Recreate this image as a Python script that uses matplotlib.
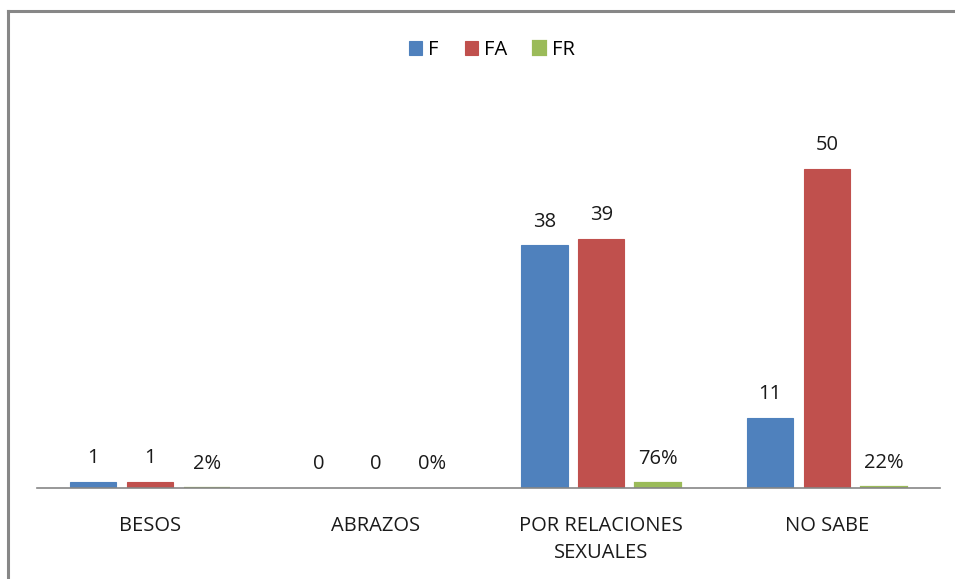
import matplotlib
matplotlib.use("Agg")
import matplotlib.pyplot as plt
import numpy as np
from matplotlib.lines import Line2D

categories = ["BESOS", "ABRAZOS", "POR RELACIONES\nSEXUALES", "NO SABE"]
series_names = ["F", "FA", "FR"]
f_values = [1, 0, 38, 11]
fa_values = [1, 0, 39, 50]
fr_values = [0.02, 0.0, 0.76, 0.22]
colors = ["#4F81BD", "#C0504D", "#9BBB59"]

plt.rcParams['font.family'] = ['Open Sans', 'DejaVu Sans']

fig = plt.figure(figsize=(9.55, 5.79), dpi=100)
ax = fig.add_axes([37/955, 1 - 488/579, (940-37)/955, (488-105)/579])

x = np.arange(len(categories))
width = 0.204
offset = 0.252
fs = 14.5
all_series = [f_values, fa_values, fr_values]
for i, (name, vals, c) in enumerate(zip(series_names, all_series, colors)):
    pos = x + (i - 1) * offset
    lw = 1.6 if name == "FR" else 0.8
    ax.bar(pos, vals, width, color=c, label=name,
           edgecolor=[c if v > 0 else "none" for v in vals], linewidth=lw)
    for p, v in zip(pos, vals):
        txt = f"{round(v*100)}%" if name == "FR" else f"{v}"
        ax.annotate(txt, (p, v), xytext=(0, 10), textcoords="offset points",
                    ha="center", va="bottom", fontsize=fs, color="#1a1a1a")

ax.set_xlim(-0.5, len(categories) - 0.5)
ax.set_ylim(0, 60)
ax.set_yticks([])
ax.set_xticks(x)
ax.set_xticklabels(categories, fontsize=fs, color="#1a1a1a", linespacing=1.45)
ax.tick_params(axis="x", length=0, pad=20)
for s in ["top", "right", "left"]:
    ax.spines[s].set_visible(False)
ax.spines["bottom"].set_color("#868686")
ax.spines["bottom"].set_linewidth(1.2)

leg = fig.legend(loc="center", bbox_to_anchor=(492/955, 1 - 50/579), ncol=3,
                 frameon=False, fontsize=fs, handlelength=0.65, handleheight=0.65,
                 handletextpad=0.3, columnspacing=1.3)

# outer frame (top and left visible)
fig.add_artist(Line2D([8/955, 8/955], [0, 1 - 11/579], transform=fig.transFigure,
                      color="#878787", lw=2.2, solid_capstyle="projecting"))
fig.add_artist(Line2D([8/955, 1], [1 - 11/579, 1 - 11/579], transform=fig.transFigure,
                      color="#878787", lw=2.2, solid_capstyle="projecting"))

fig.savefig("out.png", dpi=100)
